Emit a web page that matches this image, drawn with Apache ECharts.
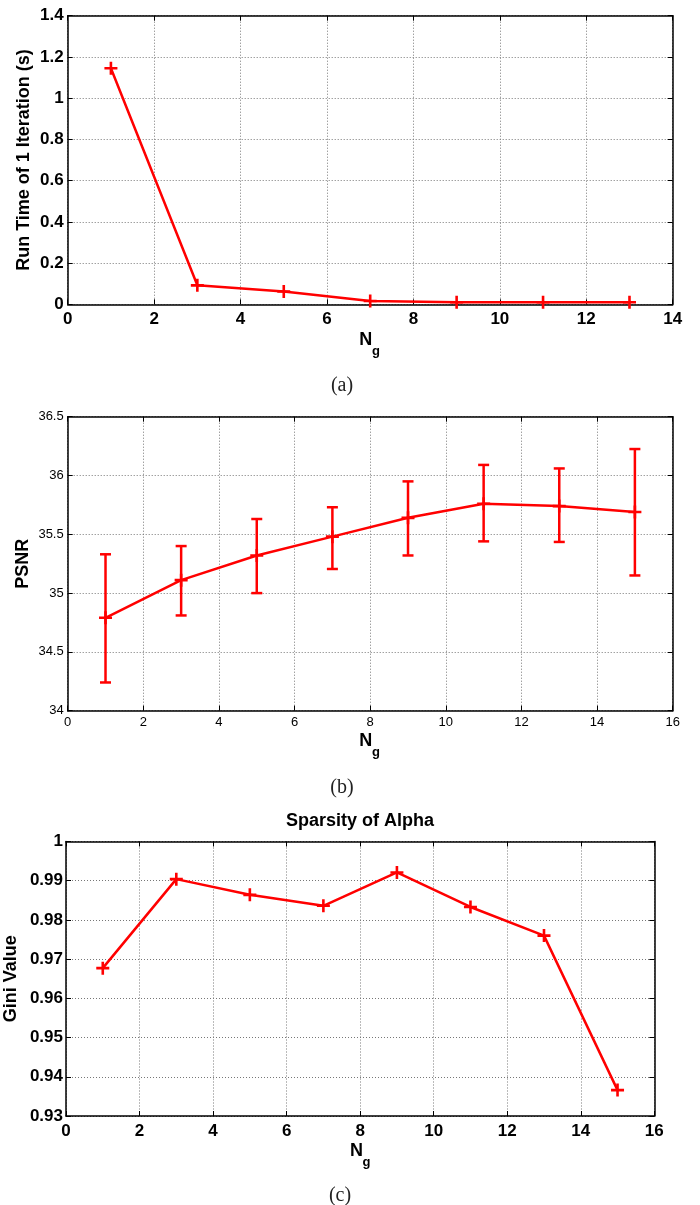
<!DOCTYPE html>
<html>
<head>
<meta charset="utf-8">
<script src="https://cdn.jsdelivr.net/npm/echarts@6/dist/echarts.min.js"></script>
<style>
html,body{margin:0;padding:0;background:#fff;}
#chart{width:700px;height:1205px;}
</style>
</head>
<body>
<div id="chart"></div>
<script>
// ---- data ----
const xA = [1, 3, 5, 7, 9, 11, 13];
const runTime = [1.145, 0.092, 0.062, 0.016, 0.010, 0.010, 0.010];

const xB = [1, 3, 5, 7, 9, 11, 13, 15];
const psnr = [34.79, 35.11, 35.32, 35.48, 35.64, 35.76, 35.74, 35.69];
const psnrLow = [34.24, 34.81, 35.00, 35.205, 35.32, 35.44, 35.435, 35.15];
const psnrHigh = [35.33, 35.40, 35.63, 35.73, 35.95, 36.09, 36.06, 36.225];

const xC = [1, 3, 5, 7, 9, 11, 13, 15];
const gini = [0.9677, 0.9904, 0.9864, 0.9836, 0.9921, 0.9833, 0.9760, 0.9366];

// axis ranges [min, max, interval]
const xRangeA = [0, 14, 2];
const yRangeA = [0, 1.4, 0.2];
const xRangeB = [0, 16, 2];
const yRangeB = [34, 36.5, 0.5];
const xRangeC = [0, 16, 2];
const yRangeC = [0.93, 1, 0.01];

const yNameA = 'Run Time of 1 Iteration (s)';
const yNameB = 'PSNR';
const yNameC = 'Gini Value';
const xNameMain = 'N';
const xNameSub = 'g';
const titleC = 'Sparsity of Alpha';
const captions = ['(a)', '(b)', '(c)'];

// ---- styling ----
const RED = '#ff0000';
const FONT = '"Liberation Sans", Arial, Helvetica, sans-serif';
const SERIF = '"Liberation Serif", "Times New Roman", serif';
const PLUS = 'path://M5.2,0H7.8V5.2H13V7.8H7.8V13H5.2V7.8H0V5.2H5.2Z';

const axisLine = {show: true, onZero: false, lineStyle: {color: '#000', width: 1.5}};
const axisTick = {show: true, inside: true, length: 5, lineStyle: {color: '#000', width: 1}};
const splitLine = {show: true, lineStyle: {color: '#777', width: 1, type: [1, 2]}};

function mainX(grid, r, bold, fs, margin) {
  return {
    type: 'value', gridIndex: grid, position: 'bottom',
    min: r[0], max: r[1], interval: r[2],
    axisLine: axisLine, axisTick: axisTick, splitLine: splitLine,
    axisLabel: {color: '#000', fontFamily: FONT, fontWeight: bold ? 'bold' : 'normal', fontSize: fs, margin: margin}
  };
}
function mainY(grid, r, bold, fs, margin, name, gap) {
  return {
    type: 'value', gridIndex: grid, position: 'left',
    min: r[0], max: r[1], interval: r[2],
    axisLine: axisLine, axisTick: axisTick, splitLine: splitLine,
    axisLabel: {color: '#000', fontFamily: FONT, fontWeight: bold ? 'bold' : 'normal', fontSize: fs, margin: margin},
    name: name, nameLocation: 'middle', nameGap: gap, nameMoveOverlap: false,
    nameTextStyle: {color: '#000', fontFamily: FONT, fontWeight: 'bold', fontSize: 18}
  };
}
function sideX(grid, r) {
  return {type: 'value', gridIndex: grid, position: 'top', min: r[0], max: r[1], interval: r[2],
    axisLine: axisLine, axisTick: axisTick, splitLine: {show: false}, axisLabel: {show: false}};
}
function sideY(grid, r) {
  return {type: 'value', gridIndex: grid, position: 'right', min: r[0], max: r[1], interval: r[2],
    axisLine: axisLine, axisTick: axisTick, splitLine: {show: false}, axisLabel: {show: false}};
}

function lineSeries(xi, yi, xs, ys) {
  return {
    type: 'line', xAxisIndex: xi, yAxisIndex: yi,
    data: xs.map((x, i) => [x, ys[i]]),
    symbol: PLUS, symbolSize: 13, showSymbol: true,
    itemStyle: {color: RED},
    lineStyle: {color: RED, width: 2.5},
    z: 5, animation: false
  };
}

// N with subscript g, placed under each x axis
function ngText(nx, ny) {
  return [
    {type: 'text', x: nx, y: ny, style: {text: xNameMain, fill: '#000', font: 'bold 18px ' + FONT, textAlign: 'left', textVerticalAlign: 'middle'}},
    {type: 'text', x: nx + 12.6, y: ny + 11, style: {text: xNameSub, fill: '#000', font: 'bold 13px ' + FONT, textAlign: 'left', textVerticalAlign: 'middle'}}
  ];
}
function caption(txt, cx, cy) {
  return {type: 'text', x: cx, y: cy, style: {text: txt, fill: '#222', font: '20px ' + SERIF, textAlign: 'center', textVerticalAlign: 'middle'}};
}

const chart = echarts.init(document.getElementById('chart'), null, {renderer: 'canvas'});

const option = {
  backgroundColor: '#fff',
  animation: false,
  grid: [
    {left: 67.7, right: 27.3, top: 15.7, height: 288.6, outerBoundsMode: 'none', containLabel: false},
    {left: 67.7, right: 27.3, top: 416.7, height: 294, outerBoundsMode: 'none', containLabel: false},
    {left: 66, right: 45.7, top: 841.5, height: 274.5, outerBoundsMode: 'none', containLabel: false}
  ],
  xAxis: [
    mainX(0, xRangeA, true, 17, 7),
    mainX(1, xRangeB, false, 13, 5),
    mainX(2, xRangeC, true, 17, 7),
    sideX(0, xRangeA), sideX(1, xRangeB), sideX(2, xRangeC)
  ],
  yAxis: [
    mainY(0, yRangeA, true, 17, 4, yNameA, 35),
    mainY(1, yRangeB, false, 13, 4, yNameB, 36),
    mainY(2, yRangeC, true, 17, 3, yNameC, 45.5),
    sideY(0, yRangeA), sideY(1, yRangeB), sideY(2, yRangeC)
  ],
  series: [
    lineSeries(0, 0, xA, runTime),
    lineSeries(1, 1, xB, psnr),
    {
      type: 'custom', xAxisIndex: 1, yAxisIndex: 1,
      data: xB.map((x, i) => [x, psnrLow[i], psnrHigh[i]]),
      encode: {x: 0, y: [1, 2]},
      z: 4, animation: false,
      renderItem: function (params, api) {
        const x = api.value(0);
        const lo = api.coord([x, api.value(1)]);
        const hi = api.coord([x, api.value(2)]);
        const hw = 5.5;
        const st = {stroke: RED, lineWidth: 2.5};
        return {
          type: 'group',
          children: [
            {type: 'line', shape: {x1: lo[0], y1: lo[1], x2: hi[0], y2: hi[1]}, style: st},
            {type: 'line', shape: {x1: hi[0] - hw, y1: hi[1], x2: hi[0] + hw, y2: hi[1]}, style: st},
            {type: 'line', shape: {x1: lo[0] - hw, y1: lo[1], x2: lo[0] + hw, y2: lo[1]}, style: st}
          ]
        };
      }
    },
    lineSeries(2, 2, xC, gini)
  ],
  graphic: [].concat(
    ngText(359.3, 340.5),
    ngText(359.3, 741),
    ngText(350, 1151.5),
    [
      {type: 'text', x: 360, y: 821, style: {text: titleC, fill: '#000', font: 'bold 18px ' + FONT, textAlign: 'center', textVerticalAlign: 'middle'}},
      caption(captions[0], 342, 386),
      caption(captions[1], 342, 788),
      caption(captions[2], 340, 1196)
    ]
  )
};
chart.setOption(option);
</script>
</body>
</html>
